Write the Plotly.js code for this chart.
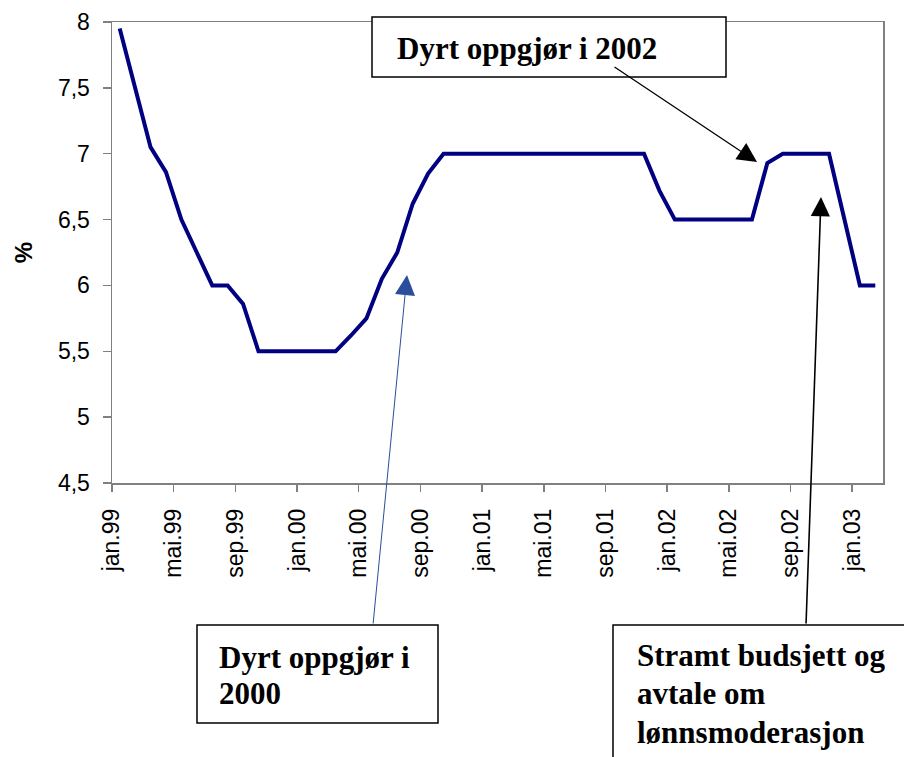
<!DOCTYPE html>
<html>
<head>
<meta charset="utf-8">
<script src="https://cdn.plot.ly/plotly-3.0.1.min.js"></script>
<style>html,body{margin:0;padding:0;background:#fff;}#chart{width:904px;height:757px;}</style>
</head>
<body>
<div id="chart"></div>
<script>
// ---- data ----
const months = [
  'jan.99','feb.99','mar.99','apr.99','mai.99','jun.99','jul.99','aug.99','sep.99','okt.99','nov.99','des.99',
  'jan.00','feb.00','mar.00','apr.00','mai.00','jun.00','jul.00','aug.00','sep.00','okt.00','nov.00','des.00',
  'jan.01','feb.01','mar.01','apr.01','mai.01','jun.01','jul.01','aug.01','sep.01','okt.01','nov.01','des.01',
  'jan.02','feb.02','mar.02','apr.02','mai.02','jun.02','jul.02','aug.02','sep.02','okt.02','nov.02','des.02',
  'jan.03','feb.03'
];
const rate = [
  7.95, 7.5, 7.05, 6.86, 6.5, 6.25, 6.0, 6.0, 5.86, 5.5, 5.5, 5.5,
  5.5, 5.5, 5.5, 5.62, 5.75, 6.05, 6.25, 6.62, 6.85, 7.0, 7.0, 7.0,
  7.0, 7.0, 7.0, 7.0, 7.0, 7.0, 7.0, 7.0, 7.0, 7.0, 7.0, 6.72,
  6.5, 6.5, 6.5, 6.5, 6.5, 6.5, 6.93, 7.0, 7.0, 7.0, 7.0, 6.5,
  6.0, 6.0
];
const shownLabels = ['jan.99','mai.99','sep.99','jan.00','mai.00','sep.00','jan.01','mai.01','sep.01','jan.02','mai.02','sep.02','jan.03'];
const yTitle = '%';
const note2002 = 'Dyrt oppgjør i 2002';
const note2000 = ['Dyrt oppgjør i', '2000'];
const noteBudget = ['Stramt budsjett og', 'avtale om', 'lønnsmoderasjon'];

// ---- layout helpers ----
const W = 904, H = 757;
const M = {l: 112, r: 21, t: 22, b: 274};
const pw = W - M.l - M.r, ph = H - M.t - M.b;
const px = p => (p - M.l) / pw;
const py = p => (H - M.b - p) / ph;

const xIdx = months.map((_, i) => i);
const tickvals = shownLabels.map(l => months.indexOf(l) - 0.5);

const serif = 'Liberation Serif, Times New Roman, serif';
const sans = 'Liberation Sans, Arial, sans-serif';

const trace = {
  x: xIdx, y: rate, type: 'scatter', mode: 'lines',
  line: {color: '#000080', width: 4}, hoverinfo: 'skip'
};

function box(x0, y0, x1, y1) {
  return {type: 'rect', xref: 'paper', yref: 'paper', x0: px(x0), x1: px(x1), y0: py(y1), y1: py(y0),
          line: {color: '#000', width: 1.5}, fillcolor: '#fff', layer: 'above'};
}
function label(text, x, yc) {
  return {xref: 'paper', yref: 'paper', x: px(x), y: py(yc), xanchor: 'left', yanchor: 'middle',
          text: '<b>' + text + '</b>', showarrow: false, font: {family: serif, size: 31, color: '#000'}};
}
function arrow(x, y, ax, ay, color, width, size) {
  return {xref: 'x', yref: 'y', x: x, y: y, ax: ax, ay: ay, text: '', showarrow: true,
          arrowhead: 2, arrowsize: size, arrowwidth: width, arrowcolor: color, standoff: 0, startstandoff: 0};
}

const annotations = [
  label(note2002, 395, 48),
  label(note2000[0], 217, 657),
  label(note2000[1], 217, 693),
  label(noteBudget[0], 635, 655),
  label(noteBudget[1], 635, 693),
  label(noteBudget[2], 635, 732),
  arrow(41.33, 6.937, -144, -96, '#000', 1.3, 3.0),
  arrow(18.63, 6.079, -34, 350, '#2a4d9c', 1, 4),
  arrow(45.48, 6.671, -15, 428, '#000', 1.6, 2.4)
];

const layout = {
  width: W, height: H, margin: M,
  paper_bgcolor: '#fff', plot_bgcolor: '#fff',
  separators: ', ',
  showlegend: false,
  font: {family: sans, color: '#000'},
  xaxis: {
    range: [-0.5, months.length - 0.5], tickmode: 'array', tickvals: tickvals, ticktext: shownLabels,
    tickangle: -90, ticks: 'outside', ticklen: 7, tickwidth: 1.5, tickcolor: '#808080',
    showline: true, linecolor: '#808080', linewidth: 1.5, mirror: true,
    showgrid: false, zeroline: false, tickfont: {family: sans, size: 23, color: '#000'},
    ticklabelstandoff: 8
  },
  yaxis: {
    range: [4.5, 8], dtick: 0.5, tick0: 4.5, ticks: 'outside', ticklen: 8, tickwidth: 1.5, tickcolor: '#808080',
    showline: true, linecolor: '#808080', linewidth: 1.5, mirror: true,
    showgrid: false, zeroline: false, tickfont: {family: sans, size: 23, color: '#000'},
    ticklabelstandoff: 8,
    title: {text: '<b>' + yTitle + '</b>', font: {family: sans, size: 24, color: '#000'}, standoff: 18}
  },
  shapes: [box(372, 17, 726, 77), box(197, 625, 438, 723), box(613, 625, 930, 800)],
  annotations: annotations
};

Plotly.newPlot('chart', [trace], layout, {staticPlot: true, displayModeBar: false});
</script>
</body>
</html>
